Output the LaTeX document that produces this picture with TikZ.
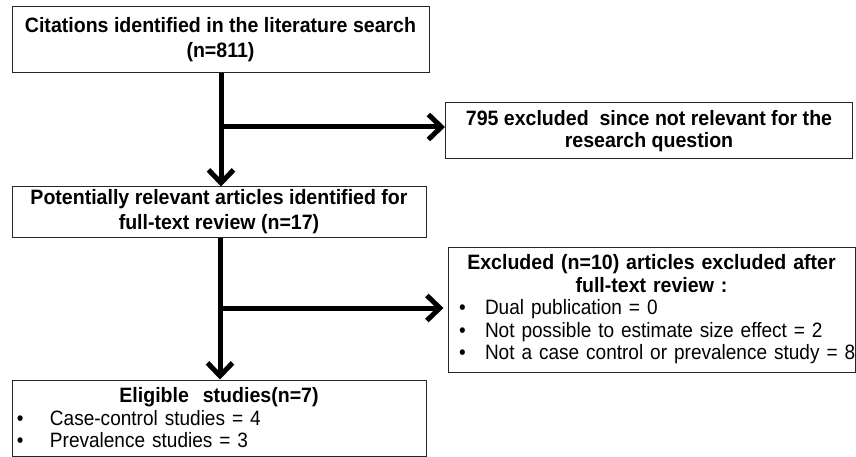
\documentclass[tikz,border=0pt]{standalone}
\usepackage{fontspec}
\setmainfont[FakeStretch=0.915, BoldFeatures={FakeStretch=0.94}]{Liberation Sans}
\usetikzlibrary{arrows.meta}
\newcommand{\fsz}[1]{\fontsize{20.8}{#1}\selectfont}
\begin{document}
\begin{tikzpicture}[x=1pt,y=-1pt,
  box/.style={draw=black!85, line width=1pt, rectangle, inner xsep=0pt, inner ysep=0pt, align=center},
  arr/.style={line width=5pt, -{Straight Barb[length=13pt,width=25pt,line width=5pt]}}]
\useasboundingbox (0,0) rectangle (856,457);
\fill[white] (0,0) rectangle (856,457);

\node[box, font=\fsz{25}, minimum width=417pt, minimum height=66pt] (b1) at (220.5,40)
  {\bfseries Citations identified in the literature search\\ \bfseries (n=811)};
\node[box, font=\fsz{22}, minimum width=407pt, minimum height=56pt] (b2) at (649,131)
  {\bfseries 795 excluded\ \ since not relevant for the\\ \bfseries research question};
\node[box, font=\fsz{25}, minimum width=414pt, minimum height=50pt] (b3) at (219,212)
  {\bfseries Potentially relevant articles identified for\\ \bfseries full-text review (n=17)};
\node[box, font=\fsz{22.5}, minimum width=407pt, minimum height=125pt, text width=407pt, align=left] (b4) at (651.5,309.5)
  {{\centering\bfseries Excluded (n=10) articles excluded after\\ full-text review :\par}
   \noindent\mbox{\hspace*{11pt}\makebox[26pt][l]{•}Dual publication = 0}\par
   \noindent\mbox{\hspace*{11pt}\makebox[26pt][l]{•}Not possible to estimate size effect = 2}\par
   \noindent\mbox{\hspace*{11pt}\makebox[26pt][l]{•}Not a case control or prevalence study = 8}\par};
\node[box, font=\fsz{22.5}, minimum width=414pt, minimum height=76pt, text width=414pt, align=left] (b5) at (219,418)
  {{\centering\bfseries Eligible\ \ studies(n=7)\par}
   \noindent\mbox{\hspace*{5pt}\makebox[33pt][l]{•}Case-control studies = 4}\par
   \noindent\mbox{\hspace*{5pt}\makebox[33pt][l]{•}Prevalence studies = 3}\par};

\coordinate (j1) at (221,127);
\coordinate (j2) at (220,308);

\draw[arr] (b1.south -| j1) -- (b3.north -| j1);
\draw[arr] (j1) -- (j1 -| b2.west);
\draw[arr] (b3.south -| j2) -- (b5.north -| j2);
\draw[arr, shorten >=4pt] (j2) -- (j2 -| b4.west);
\end{tikzpicture}
\end{document}
